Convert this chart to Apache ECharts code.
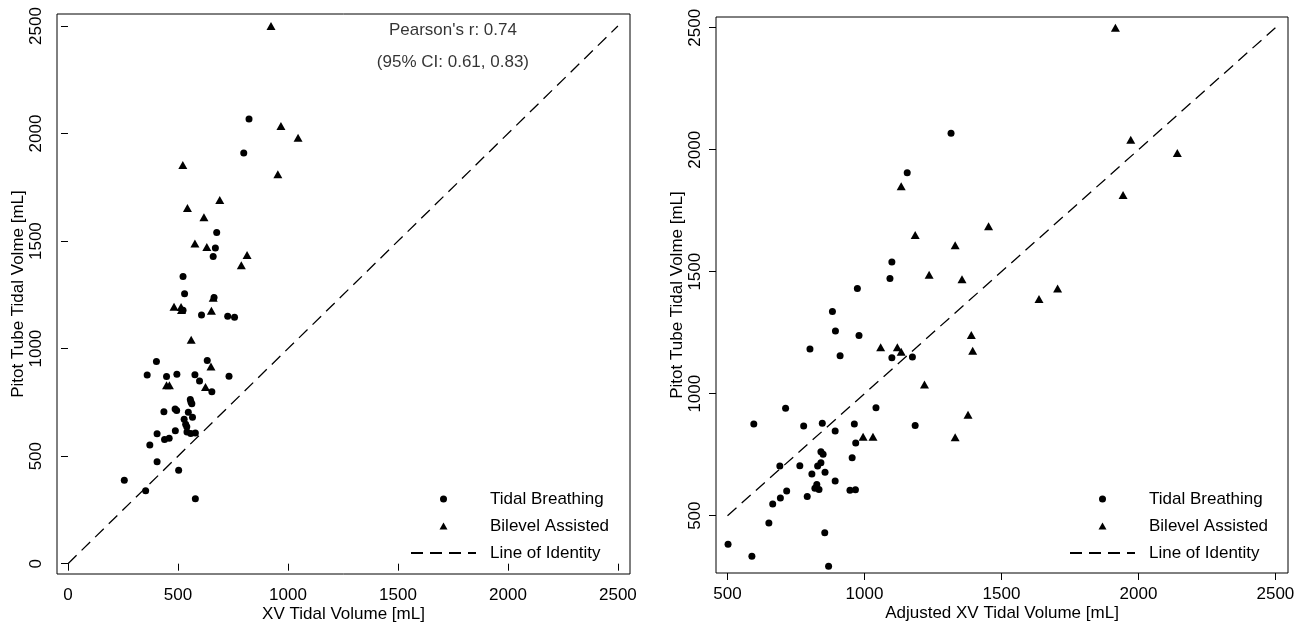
<!DOCTYPE html>
<html>
<head>
<meta charset="utf-8">
<script src="https://cdn.jsdelivr.net/npm/echarts@6/dist/echarts.min.js"></script>
<style>
html,body{margin:0;padding:0;background:#fff;}
#chart{width:1307px;height:623px;}
</style>
</head>
<body>
<div id="chart"></div>
<script>
// ---- Data ----
// Left panel: XV Tidal Volume vs Pitot Tube Tidal Volume
const tidalXV = [
  [823,2068],[799,1910],[676,1540],[670,1468],[660,1428],[523,1335],[530,1255],[664,1238],
  [523,1179],[607,1156],[726,1151],[757,1146],[402,940],[633,945],[360,877],[448,870],
  [495,881],[577,878],[732,872],[598,850],[654,799],[556,763],[559,752],[563,744],
  [436,707],[487,719],[494,712],[547,704],[566,681],[528,672],[535,648],[540,637],
  [541,612],[558,605],[579,608],[488,618],[405,604],[439,578],[460,583],[372,552],
  [405,474],[503,435],[256,388],[353,339],[579,302]
];
const bilevelXV = [
  [923,2500],[968,2035],[1046,1981],[954,1811],[522,1854],[543,1654],[690,1691],[618,1611],
  [577,1489],[631,1472],[814,1435],[788,1388],[660,1237],[482,1195],[514,1193],[516,1180],
  [652,1176],[560,1041],[650,917],[448,830],[461,830],[625,822]
];
// Right panel: Adjusted XV Tidal Volume vs Pitot Tube Tidal Volume
const tidalAdj = [
  [1316,2068],[1156,1906],[1100,1540],[1093,1472],[974,1431],[883,1337],[894,1257],[980,1238],
  [801,1183],[911,1155],[1100,1147],[1175,1150],[712,940],[1042,942],[596,876],[778,868],
  [846,879],[963,876],[1185,870],[893,847],[968,798],[841,762],[849,752],[955,737],
  [691,704],[764,705],[829,704],[841,717],[808,671],[856,678],[826,628],[819,612],
  [834,607],[893,642],[947,604],[967,606],[716,601],[693,572],[791,579],[665,548],
  [651,470],[855,430],[502,383],[589,334],[869,293]
];
const bilevelAdj = [
  [1916,2500],[1972,2041],[2142,1987],[1944,1814],[1134,1850],[1453,1686],[1185,1650],[1331,1608],
  [1236,1487],[1356,1469],[1705,1431],[1637,1388],[1390,1241],[1395,1176],[1059,1190],[1120,1190],
  [1134,1172],[1219,1038],[1378,914],[995,823],[1031,823],[1331,821]
];
const identityLeft = [[0,0],[2500,2500]];
const identityRight = [[500,500],[2500,2500]];
const ticksLeftX = [0,500,1000,1500,2000,2500];
const ticksLeftY = [0,500,1000,1500,2000,2500];
const ticksRightX = [500,1000,1500,2000,2500];
const ticksRightY = [500,1000,1500,2000,2500];
const annotations = [[1750,2500,"Pearson's r: 0.74"],[1750,2350,"(95% CI: 0.61, 0.83)"]];
const seriesNames = ['Tidal Breathing','Bilevel Assisted','Line of Identity'];
const axisTitles = ['XV Tidal Volume [mL]','Pitot Tube Tidal Volme [mL]','Adjusted XV Tidal Volume [mL]'];

// ---- Styling ----
const FONT = "'Liberation Sans', Arial, Helvetica, sans-serif";
const INK = '#000';
const FS = 17;
const triIcon = 'path://M0,7L4,0L8,7Z';

function makeAxis(gridIndex, min, max, ticks, name, isY) {
  return {
    type: 'value', gridIndex, min, max,
    name, nameLocation: 'middle', nameGap: isY ? 30 : 32,
    nameMoveOverlap: false,
    nameTextStyle: {fontFamily: FONT, fontSize: FS, color: INK},
    axisLine: {show: false},
    splitLine: {show: false},
    axisTick: {show: true, inside: false, length: 7, customValues: ticks,
      lineStyle: {color: INK, width: 1}},
    axisLabel: {show: true, customValues: ticks, margin: isY ? 12 : 13,
      rotate: isY ? 90 : 0, fontFamily: FONT, fontSize: FS, color: INK,
      formatter: v => String(v),
      showMinLabel: true, showMaxLabel: true}
  };
}

function makeLegend(left) {
  return {
    orient: 'vertical', left, top: 489, padding: 0,
    itemWidth: 65, itemHeight: 7, itemGap: 7,
    symbolKeepAspect: true,
    selectedMode: false,
    textStyle: {fontFamily: FONT, fontSize: FS, color: INK, lineHeight: 20, padding: [0,0,0,9]},
    data: [
      seriesNames[0],
      {name: seriesNames[1], icon: triIcon},
      {name: seriesNames[2], itemStyle: {color: 'rgba(0,0,0,0)', borderWidth: 0, opacity: 0}}
    ]
  };
}

function pts(name, data, xi, symbol, size) {
  return {
    name, type: 'scatter', xAxisIndex: xi, yAxisIndex: xi, data,
    symbol, symbolSize: size, itemStyle: {color: INK, opacity: 1}, silent: true, z: 3
  };
}
function idLine(data, xi) {
  return {
    name: seriesNames[2], type: 'line', xAxisIndex: xi, yAxisIndex: xi, data,
    symbol: 'none', silent: true, z: 2,
    lineStyle: {color: INK, width: 1.3, type: [12, 7]},
    itemStyle: {color: INK}
  };
}

const gridBase = {show: true, borderColor: '#000', borderWidth: 1, backgroundColor: 'transparent',
  containLabel: false, outerBoundsMode: 'none'};

const chart = echarts.init(document.getElementById('chart'), null, {renderer: 'canvas'});
chart.setOption({
  animation: false,
  backgroundColor: '#fff',
  textStyle: {fontFamily: FONT},
  grid: [
    Object.assign({left: 57, top: 14, width: 573, height: 560}, gridBase),
    Object.assign({left: 716, top: 17, width: 572, height: 556}, gridBase)
  ],
  xAxis: [
    makeAxis(0, -50, 2555, ticksLeftX, axisTitles[0], false),
    makeAxis(1, 458, 2546, ticksRightX, axisTitles[2], false)
  ],
  yAxis: [
    makeAxis(0, -48, 2556, ticksLeftY, axisTitles[1], true),
    makeAxis(1, 265, 2544, ticksRightY, axisTitles[1], true)
  ],
  legend: [makeLegend(410), makeLegend(1069)],
  series: [
    pts(seriesNames[0], tidalXV, 0, 'circle', 7),
    pts(seriesNames[1], bilevelXV, 0, 'triangle', [9, 8]),
    idLine(identityLeft, 0),
    pts(seriesNames[0], tidalAdj, 1, 'circle', 7),
    pts(seriesNames[1], bilevelAdj, 1, 'triangle', [9, 8]),
    idLine(identityRight, 1),
    {
      name: 'annotation', type: 'scatter', xAxisIndex: 0, yAxisIndex: 0,
      data: annotations, symbolSize: 1, silent: true,
      itemStyle: {color: 'rgba(0,0,0,0)'},
      label: {show: true, position: 'inside', offset: [0, 4], formatter: p => p.data[2],
        fontFamily: FONT, fontSize: FS, color: INK}
    }
  ]
});
</script>
</body>
</html>
